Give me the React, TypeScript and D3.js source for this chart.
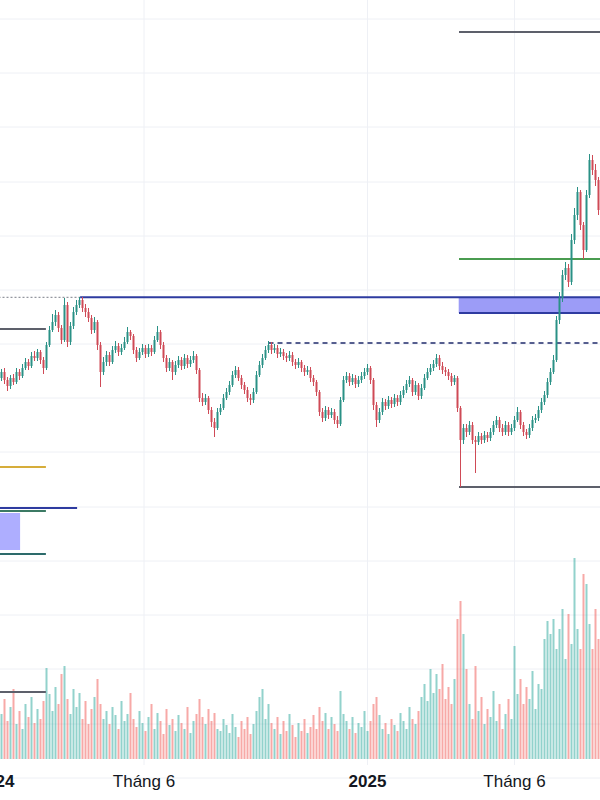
import React from "react";
import * as d3 from "d3";

// ---- price data (thousand VND), one candle per slot ----
const opens = [
  42.2, 42.8, 42.0, 41.4, 42.2, 41.8, 42.8, 42.4, 43.2, 43.8,
  43.4, 44.4, 44.2, 44.8, 44.0, 43.2, 45.5, 47.0, 47.8, 48.5,
  47.2, 46.0, 49.5, 45.8, 47.4, 48.8, 49.5, 50.0, 49.2, 48.8,
  48.2, 47.0, 47.8, 45.5, 42.8, 43.8, 44.5, 43.8, 45.0, 45.4,
  44.8, 45.2, 45.8, 46.8, 46.4, 45.0, 44.2, 44.8, 45.2, 44.6,
  45.2, 44.8, 46.0, 46.8, 45.5, 44.2, 43.2, 43.8, 42.8, 43.5,
  44.0, 43.4, 44.2, 43.6, 44.0, 44.4, 43.0, 40.2, 39.8, 40.2,
  39.0, 37.8, 37.2, 38.8, 39.2, 40.2, 40.8, 41.5, 42.5, 43.0,
  42.2, 41.5, 41.0, 40.2, 40.0, 40.8, 42.5, 43.5, 44.2, 45.0,
  45.5, 45.0, 45.2, 44.6, 44.8, 44.4, 44.2, 44.5, 43.8, 43.5,
  43.8, 43.2, 42.8, 43.0, 42.2, 41.8, 40.8, 38.8, 38.2, 39.0,
  38.5, 38.8, 38.0, 37.6, 40.0, 42.0, 42.4, 41.8, 42.2, 41.6,
  42.0, 42.4, 42.8, 43.2, 42.0, 39.5, 38.0, 38.8, 39.8, 39.4,
  40.0, 39.6, 40.2, 39.8, 40.5, 41.0, 41.6, 42.0, 40.8, 41.5,
  40.4, 41.2, 42.2, 42.8, 43.2, 43.6, 44.2, 43.4, 43.0, 42.8,
  42.4, 41.8, 42.2, 39.2, 36.0, 37.2, 36.8, 37.5, 36.0, 35.8,
  36.4, 36.0, 36.5, 36.2, 36.8, 37.5, 38.0, 37.2, 36.8, 37.5,
  36.8, 37.2, 38.0, 38.8, 37.5, 36.8, 36.5, 37.2, 38.0, 38.2,
  39.0, 39.8, 40.5, 41.8, 42.8, 44.0, 48.0, 50.2, 52.5, 53.2,
  51.8, 56.0, 58.5, 60.8, 57.5, 55.0, 60.5, 64.0, 63.0, 62.0,
];
const highs = [
  43.1, 43.2, 42.3, 42.5, 42.6, 43.2, 43.1, 43.6, 44.2, 44.1,
  44.8, 44.9, 45.1, 45.0, 44.3, 45.8, 47.4, 48.6, 49.0, 48.8,
  47.5, 50.2, 49.8, 47.8, 49.3, 50.0, 50.3, 50.3, 49.6, 49.2,
  48.5, 48.3, 48.0, 45.8, 44.3, 44.9, 44.8, 45.4, 45.9, 45.7,
  45.6, 46.3, 47.3, 47.0, 46.6, 45.3, 45.2, 45.6, 45.5, 45.6,
  45.5, 46.4, 47.4, 47.0, 45.8, 44.5, 44.2, 44.0, 43.9, 44.4,
  44.3, 44.6, 44.5, 44.4, 44.9, 44.6, 43.2, 40.7, 40.6, 40.4,
  39.3, 38.2, 39.2, 39.6, 40.6, 41.2, 41.9, 42.9, 43.4, 43.3,
  42.5, 41.8, 41.3, 40.6, 41.2, 42.9, 43.9, 44.6, 45.4, 45.9,
  45.8, 45.6, 45.5, 45.2, 45.1, 44.7, 44.9, 44.8, 44.1, 44.2,
  44.0, 43.5, 43.4, 43.3, 42.5, 42.0, 41.0, 39.2, 39.4, 39.3,
  39.2, 39.1, 38.4, 40.3, 42.4, 42.8, 42.7, 42.6, 42.5, 42.4,
  42.8, 43.2, 43.6, 43.4, 42.2, 39.8, 39.2, 40.2, 40.1, 40.4,
  40.3, 40.6, 40.5, 40.9, 41.4, 42.0, 42.4, 42.2, 41.9, 41.7,
  41.6, 42.6, 43.2, 43.6, 44.0, 44.6, 44.5, 43.8, 43.3, 43.1,
  42.7, 42.5, 42.4, 39.4, 37.6, 37.6, 37.9, 37.8, 36.4, 36.8,
  36.7, 36.9, 36.8, 37.2, 37.9, 38.4, 38.3, 37.6, 37.9, 37.8,
  37.6, 38.4, 39.3, 39.0, 37.8, 37.1, 37.6, 38.4, 38.6, 39.4,
  40.2, 40.9, 42.2, 43.2, 44.5, 48.4, 50.8, 53.0, 53.8, 53.6,
  56.6, 59.2, 61.3, 61.0, 57.8, 61.0, 64.6, 64.5, 63.6, 62.3,
];
const lows = [
  41.9, 41.6, 40.9, 41.1, 41.5, 41.6, 42.0, 42.2, 43.0, 43.0,
  43.2, 43.9, 43.9, 43.6, 42.6, 43.0, 45.3, 46.8, 47.4, 46.8,
  45.6, 45.8, 45.3, 45.5, 47.1, 48.5, 49.2, 48.8, 48.3, 47.8,
  46.6, 46.7, 45.0, 41.3, 42.5, 43.4, 43.4, 43.6, 44.7, 44.4,
  44.5, 45.0, 45.6, 46.0, 44.6, 43.8, 44.0, 44.5, 44.2, 44.3,
  44.4, 44.6, 45.8, 45.1, 43.8, 42.8, 42.9, 42.0, 42.5, 43.2,
  43.0, 43.1, 43.2, 43.3, 43.7, 42.6, 39.8, 39.4, 39.5, 38.6,
  37.3, 36.3, 37.0, 38.5, 39.0, 40.0, 40.5, 41.3, 42.2, 41.9,
  41.1, 40.6, 39.8, 39.5, 39.7, 40.6, 42.3, 43.2, 44.0, 44.7,
  44.6, 44.7, 44.2, 44.3, 44.0, 43.8, 43.9, 43.4, 43.1, 43.2,
  42.8, 42.4, 42.5, 41.8, 41.4, 40.4, 38.4, 37.8, 37.9, 38.1,
  38.2, 37.6, 37.2, 37.4, 39.8, 41.7, 41.4, 41.5, 41.2, 41.3,
  41.7, 42.1, 42.5, 41.6, 39.0, 37.3, 37.7, 38.5, 39.0, 39.1,
  39.2, 39.3, 39.4, 39.5, 40.2, 40.7, 41.3, 40.4, 40.5, 40.0,
  40.1, 41.0, 42.0, 42.5, 42.9, 43.3, 43.0, 42.6, 42.4, 42.0,
  41.4, 41.5, 38.8, 31.3, 35.6, 36.3, 36.5, 35.6, 32.7, 35.5,
  35.6, 35.7, 35.8, 35.9, 36.5, 37.2, 36.8, 36.4, 36.5, 36.4,
  36.5, 36.9, 37.8, 37.1, 36.4, 36.1, 36.2, 36.9, 37.7, 37.9,
  38.7, 39.5, 40.2, 41.5, 42.6, 43.8, 47.6, 49.8, 52.0, 51.3,
  51.5, 55.6, 58.0, 57.0, 54.1, 54.8, 60.2, 62.5, 61.4, 58.5,
];
const closes = [
  42.8, 42.0, 41.4, 42.2, 41.8, 42.8, 42.4, 43.2, 43.8, 43.4,
  44.4, 44.2, 44.8, 44.0, 43.2, 45.5, 47.0, 47.8, 48.5, 47.2,
  46.0, 49.5, 45.8, 47.4, 48.8, 49.5, 50.0, 49.2, 48.8, 48.2,
  47.0, 47.8, 45.5, 42.8, 43.8, 44.5, 43.8, 45.0, 45.4, 44.8,
  45.2, 45.8, 46.8, 46.4, 45.0, 44.2, 44.8, 45.2, 44.6, 45.2,
  44.8, 46.0, 46.8, 45.5, 44.2, 43.2, 43.8, 42.8, 43.5, 44.0,
  43.4, 44.2, 43.6, 44.0, 44.4, 43.0, 40.2, 39.8, 40.2, 39.0,
  37.8, 37.2, 38.8, 39.2, 40.2, 40.8, 41.5, 42.5, 43.0, 42.2,
  41.5, 41.0, 40.2, 40.0, 40.8, 42.5, 43.5, 44.2, 45.0, 45.5,
  45.0, 45.2, 44.6, 44.8, 44.4, 44.2, 44.5, 43.8, 43.5, 43.8,
  43.2, 42.8, 43.0, 42.2, 41.8, 40.8, 38.8, 38.2, 39.0, 38.5,
  38.8, 38.0, 37.6, 40.0, 42.0, 42.4, 41.8, 42.2, 41.6, 42.0,
  42.4, 42.8, 43.2, 42.0, 39.5, 38.0, 38.8, 39.8, 39.4, 40.0,
  39.6, 40.2, 39.8, 40.5, 41.0, 41.6, 42.0, 40.8, 41.5, 40.4,
  41.2, 42.2, 42.8, 43.2, 43.6, 44.2, 43.4, 43.0, 42.8, 42.4,
  41.8, 42.2, 39.2, 36.0, 37.2, 36.8, 37.5, 36.0, 35.8, 36.4,
  36.0, 36.5, 36.2, 36.8, 37.5, 38.0, 37.2, 36.8, 37.5, 36.8,
  37.2, 38.0, 38.8, 37.5, 36.8, 36.5, 37.2, 38.0, 38.2, 39.0,
  39.8, 40.5, 41.8, 42.8, 44.0, 48.0, 50.2, 52.5, 53.2, 51.8,
  56.0, 58.5, 60.8, 57.5, 55.0, 60.5, 64.0, 63.0, 62.0, 59.0,
];
const volumes = [
  45, 60, 38, 52, 70, 35, 48, 30, 55, 42,
  62, 36, 50, 40, 58, 91, 65, 48, 72, 55,
  85, 93, 60, 45, 70, 52, 66, 40, 58, 35,
  50, 62, 80, 55, 40, 48, 35, 52, 44, 30,
  58, 38, 45, 66, 40, 32, 48, 36, 28, 42,
  55, 30, 46, 38, 25, 50, 34, 40, 28, 44,
  36, 30, 52, 26, 38, 45, 60, 42, 35, 50,
  38, 46, 30, 28, 40, 34, 26, 45, 32, 22,
  38, 30, 42, 25, 35, 48, 62, 70, 40, 55,
  36, 30, 42, 25, 38, 28, 45, 34, 22, 36,
  28, 40, 26, 32, 44, 30, 52, 38, 46, 30,
  42, 35, 28, 68, 45, 38, 30, 42, 26, 36,
  32, 48, 28, 38, 55, 62, 44, 30, 36, 25,
  40, 34, 28, 46, 38, 30, 52, 40, 35, 48,
  62, 75, 58, 90, 66, 85, 70, 95, 60, 72,
  55, 80, 140, 158, 125, 90, 55, 40, 93, 48,
  62, 35, 50, 42, 68, 38, 55, 30, 45, 60,
  40, 113, 65, 80, 55, 72, 60, 88, 50, 75,
  70, 120, 138, 125, 140, 110, 130, 150, 100, 145,
  115, 201, 130, 110, 185, 175, 135, 110, 150, 120,
];

// time-axis tick labels (positioned by candle slot)
const tickSlots = [-2, 47.5, 122, 171];
const tickLabels = ["2024", "Tháng 6", "2025", "Tháng 6"];
const tickBold = [true, false, true, false];

// price grid levels
const gridLevels = [78.1, 72.7, 67.3, 61.8, 56.4, 51.0, 45.6, 40.2, 34.8, 29.3, 23.9, 18.5, 13.1, 7.6, 2.2];

// drawn horizontal levels: name, price, from slot, to slot
const levelNames = ["top", "green", "zoneTop", "zoneBottom", "dashed", "bottom", "leftGrey", "leftGold", "leftBlue", "leftGreen", "leftTeal", "leftVol", "dotted"];
const levelPrices = [76.8, 54.1, 50.27, 48.7, 45.7, 31.3, 47.1, 33.3, 29.2, 28.9, 24.6, 10.8, 50.27];
const levelFrom = [152.5, 152.5, 26.2, 152.5, 89, 152.5, -1, -1, -1, -1, -1, -1, -1];
const levelTo = [201, 201, 201, 201, 201, 201, 14.8, 14.8, 25.2, 14.8, 14.8, 14.8, 26.2];

// zones: name, top price, bottom price, from slot, to slot
const zoneNames = ["right", "left"];
const zoneTops = [50.27, 28.7];
const zoneBottoms = [48.7, 25.0];
const zoneFrom = [152.4, -1];
const zoneTo = [201, 6.2];

const levelStyle: Record<string, { stroke: string; width: number; dash?: string }> = {
  top: { stroke: "#5d606b", width: 2 },
  green: { stroke: "#4a9c50", width: 2 },
  zoneTop: { stroke: "#2e3ba0", width: 2 },
  zoneBottom: { stroke: "#2e3ba0", width: 2 },
  dashed: { stroke: "#1f2a6b", width: 1.5, dash: "5 4" },
  bottom: { stroke: "#5d606b", width: 2 },
  leftGrey: { stroke: "#5d606b", width: 2 },
  leftGold: { stroke: "#d6ad3a", width: 2 },
  leftBlue: { stroke: "#2e3ba0", width: 2 },
  leftGreen: { stroke: "#3c7a64", width: 2 },
  leftTeal: { stroke: "#2d6b6b", width: 2 },
  leftVol: { stroke: "#5d606b", width: 2 },
  dotted: { stroke: "#7a7d87", width: 1, dash: "2 2" },
};
const zoneFill: Record<string, string> = { right: "#9c9cf7", left: "#aeaeff" };

const W = 600;
const H = 800;
const UP = "#2a9186";
const DOWN = "#cf4a56";
const VOL_UP = "rgba(38,166,154,0.5)";
const VOL_DOWN = "rgba(239,83,80,0.5)";

export default function App() {
  const n = closes.length;
  const x = d3.scaleLinear().domain([-0.5, n - 0.5]).range([0, W]);
  const y = d3.scaleLinear().domain([80, 0]).range([0, 800]);
  const v = d3.scaleLinear().domain([0, 200]).range([759, 559]);
  const bodyW = 2;
  const volW = 2;

  return (
    <svg
      width={W}
      height={H}
      style={{ position: "absolute", left: 0, top: 0, background: "#fff" }}
      xmlns="http://www.w3.org/2000/svg"
    >
      <rect x={0} y={0} width={W} height={H} fill="#ffffff" />
      {/* grid */}
      <g>
        {gridLevels.map((p, i) => (
          <line key={"gh" + i} x1={0} x2={W} y1={y(p)} y2={y(p)} stroke="#eef0f5" strokeWidth={1} />
        ))}
        {tickSlots.map((s, i) => (
          <line key={"gv" + i} x1={x(s)} x2={x(s)} y1={0} y2={765} stroke="#eef0f5" strokeWidth={1} />
        ))}
      </g>
      {/* zones */}
      <g>
        {zoneNames.map((z, i) => (
          <rect
            key={z}
            x={x(zoneFrom[i])}
            width={x(zoneTo[i]) - x(zoneFrom[i])}
            y={y(zoneTops[i])}
            height={y(zoneBottoms[i]) - y(zoneTops[i])}
            fill={zoneFill[z]}
          />
        ))}
      </g>
      {/* volume */}
      <g>
        {volumes.map((vol, i) => (
          <rect
            key={"v" + i}
            x={x(i) - volW / 2}
            width={volW}
            y={v(vol)}
            height={v(0) - v(vol)}
            fill={closes[i] >= opens[i] ? VOL_UP : VOL_DOWN}
          />
        ))}
      </g>
      {/* levels */}
      <g>
        {levelNames.map((name, i) => {
          const st = levelStyle[name];
          return (
            <line
              key={name}
              x1={x(levelFrom[i])}
              x2={x(levelTo[i])}
              y1={y(levelPrices[i])}
              y2={y(levelPrices[i])}
              stroke={st.stroke}
              strokeWidth={st.width}
              strokeDasharray={st.dash}
            />
          );
        })}
      </g>
      {/* candles */}
      <g>
        {closes.map((c, i) => {
          const o = opens[i];
          const col = c >= o ? UP : DOWN;
          const top = y(Math.max(o, c));
          const bot = y(Math.min(o, c));
          return (
            <g key={"c" + i}>
              <line x1={x(i)} x2={x(i)} y1={y(highs[i])} y2={y(lows[i])} stroke={col} strokeWidth={1} />
              <rect x={x(i) - bodyW / 2} width={bodyW} y={top} height={Math.max(1, bot - top)} fill={col} />
            </g>
          );
        })}
      </g>
      {/* time axis labels */}
      <g>
        {tickLabels.map((t, i) => (
          <text
            key={"t" + i}
            x={x(tickSlots[i])}
            y={787}
            textAnchor="middle"
            fontFamily="'Liberation Sans', Arial, sans-serif"
            fontSize={17}
            fontWeight={tickBold[i] ? 700 : 400}
            fill="#131722"
          >
            {t}
          </text>
        ))}
      </g>
    </svg>
  );
}
